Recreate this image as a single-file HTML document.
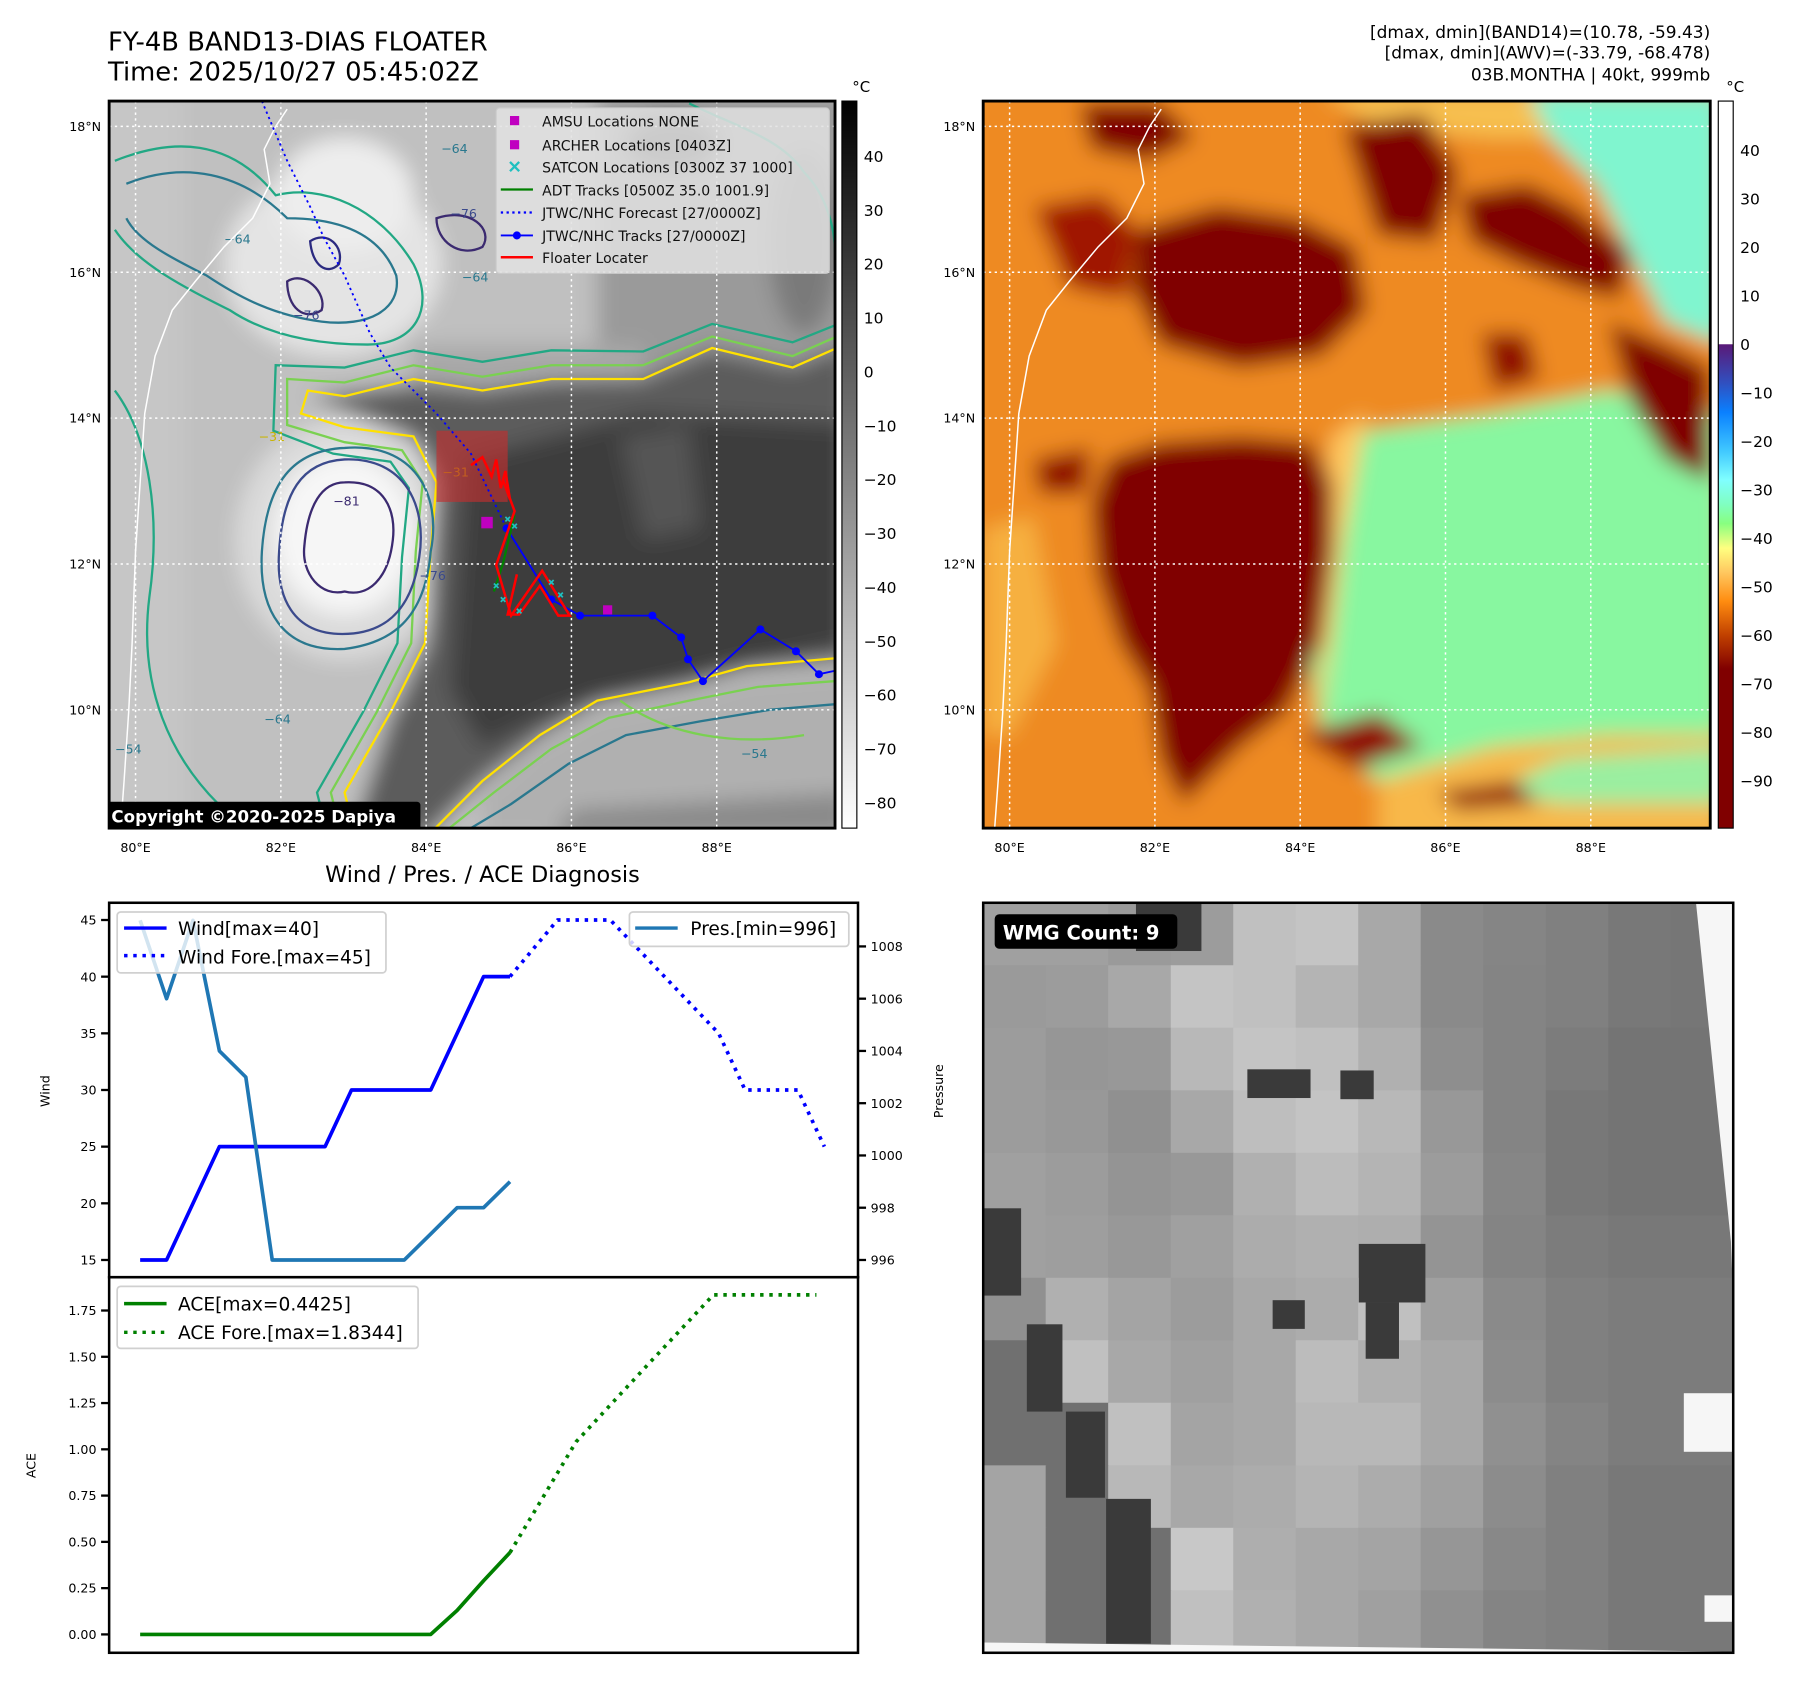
<!DOCTYPE html>
<html><head><meta charset="utf-8"><title>FY-4B BAND13 Floater</title>
<style>
html,body{margin:0;padding:0;background:#fff;}
svg{display:block;font-family:"DejaVu Sans","Liberation Sans",sans-serif;}
</style></head>
<body>
<svg id="fig" width="1801" height="1690" viewBox="0 0 1568 1471.4" xmlns="http://www.w3.org/2000/svg">
<defs>
  <filter id="blur5" filterUnits="userSpaceOnUse" x="0" y="0" width="1568" height="900"><feGaussianBlur stdDeviation="9"/></filter>
  <clipPath id="clipMap1"><rect x="95" y="88" width="632" height="633"/></clipPath>
  <clipPath id="clipMap2"><rect x="856" y="88" width="633" height="633"/></clipPath>
  <clipPath id="clipWmg"><rect x="856" y="786" width="653" height="653"/></clipPath>
  <linearGradient id="cb1grad" x1="0" y1="0" x2="0" y2="1">
    <stop offset="0" stop-color="#000"/><stop offset="1" stop-color="#fff"/>
  </linearGradient>
  <linearGradient id="cb2grad" x1="0" y1="0" x2="0" y2="1">
    <stop offset="0" stop-color="#fff"/>
    <stop offset="0.334" stop-color="#fff"/>
    <stop offset="0.335" stop-color="#5a1a78"/>
    <stop offset="0.388" stop-color="#3050c0"/>
    <stop offset="0.428" stop-color="#0a80ff"/>
    <stop offset="0.481" stop-color="#40c8ff"/>
    <stop offset="0.521" stop-color="#80ffff"/>
    <stop offset="0.555" stop-color="#80ffc0"/>
    <stop offset="0.581" stop-color="#88ff80"/>
    <stop offset="0.615" stop-color="#ffff80"/>
    <stop offset="0.648" stop-color="#ffc860"/>
    <stop offset="0.688" stop-color="#ff8c10"/>
    <stop offset="0.735" stop-color="#c04000"/>
    <stop offset="0.781" stop-color="#800000"/>
    <stop offset="1" stop-color="#800000"/>
  </linearGradient>
</defs>

<!-- Titles -->
<text x="94" y="44" font-size="22.5">FY-4B BAND13-DIAS FLOATER</text>
<text x="94" y="70" font-size="22.5">Time: 2025/10/27 05:45:02Z</text>
<g font-size="14.8" text-anchor="end">
  <text x="1489" y="33">[dmax, dmin](BAND14)=(10.78, -59.43)</text>
  <text x="1489" y="51">[dmax, dmin](AWV)=(-33.79, -68.478)</text>
  <text x="1489" y="70">03B.MONTHA | 40kt, 999mb</text>
</g>

<!-- ================= MAP 1 ================= -->
<g clip-path="url(#clipMap1)">
  <g filter="url(#blur5)">
    <rect x="80" y="70" width="670" height="670" fill="#c0c0c0"/>
    <ellipse cx="290" cy="230" rx="95" ry="80" fill="#e4e4e4"/>
    <ellipse cx="300" cy="170" rx="60" ry="50" fill="#ededed"/>
    <ellipse cx="300" cy="470" rx="95" ry="105" fill="#dadada"/>
    <ellipse cx="300" cy="465" rx="62" ry="70" fill="#f6f6f6"/>
    <polygon points="520,80 740,80 740,300 690,320 620,305 560,330 520,300" fill="#9a9a9a"/>
    <ellipse cx="585" cy="125" rx="42" ry="25" fill="#4a4a4a"/>
    <ellipse cx="700" cy="210" rx="30" ry="80" fill="#7a7a7a"/>
    <polygon points="360,300 560,300 560,335 360,340" fill="#a8a8a8"/>
    <polygon points="270,345 360,335 420,340 480,332 560,330 620,305 690,320 740,300 740,575 650,582 600,597 520,612 470,642 420,680 370,730 305,730 340,625 372,560 376,480 380,420 362,382" fill="#5c5c5c"/>
    <polygon points="405,400 560,360 740,370 740,560 600,590 480,620 420,650 392,600" fill="#3c3c3c"/>
    <polygon points="540,380 600,370 610,460 560,470" fill="#555"/>
    <polygon points="420,690 470,650 520,620 600,605 650,590 740,583 740,690 600,700 500,730 420,730" fill="#b0b0b0"/>
    <polygon points="500,705 740,690 740,730 480,730" fill="#8a8a8a"/>
    <rect x="80" y="80" width="80" height="660" fill="#c6c6c6"/>
  </g>
  <!-- contours -->
  <g fill="none" stroke-width="2">
    <path d="M740,298 L690,320 L620,303 L560,330 L480,330 L420,340 L360,330 L300,345 L268,340 L262,360 L300,372 L360,380 L380,420 L375,480 L370,560 L340,620 L300,690 L310,730" stroke="#ffe100"/>
    <path d="M740,288 L690,310 L620,293 L560,318 L480,318 L420,328 L360,318 L300,333 L250,330 L250,370 L300,385 L350,392 L368,420 L362,480 L358,560 L328,620 L288,690 L298,730" stroke="#7ad151"/>
    <path d="M740,278 L690,298 L620,282 L560,306 L480,305 L420,315 L360,305 L300,320 L240,318 L238,375 L290,395 L340,402 L356,425 L350,485 L346,560 L316,620 L276,690 L286,730" stroke="#22a884"/>
    <path d="M370,730 L420,680 L470,640 L520,610 L600,594 L650,580 L740,572" stroke="#ffe100"/>
    <path d="M380,730 L430,690 L480,652 L530,625 L600,610 L660,598 L740,592" stroke="#7ad151"/>
    <path d="M395,730 L445,700 L495,665 L545,640 L610,628 L670,618 L740,612" stroke="#2a788e"/>
    <path d="M300,390 C360,385 385,430 375,480 C370,540 340,560 300,565 C245,568 225,530 228,480 C232,420 255,392 300,390 Z" stroke="#2a788e"/>
    <path d="M300,400 C352,398 372,440 365,485 C358,535 332,552 298,552 C255,552 240,520 243,480 C246,430 262,402 300,400 Z" stroke="#3b4a8c"/>
    <path d="M300,420 C335,418 345,445 342,470 C338,505 320,520 300,515 C280,520 262,500 265,475 C268,440 280,420 300,420 Z" stroke="#3b2a70"/>
    <path d="M100,140 C150,120 200,120 240,170 C280,160 330,180 360,230 C380,270 360,300 320,300 C270,300 230,290 200,270 C160,250 120,230 100,200" stroke="#22a884"/>
    <path d="M110,160 C160,140 210,150 250,190 C290,190 330,200 345,240 C350,270 320,285 280,280 C240,275 210,260 180,240 C150,225 120,210 110,190" stroke="#2a788e"/>
    <path d="M270,210 C285,200 300,215 295,230 C285,240 272,232 270,210 Z" stroke="#2b2a80"/>
    <path d="M250,245 C265,235 285,255 280,270 C265,280 250,268 250,245 Z" stroke="#3b2a70"/>
    <path d="M380,190 C410,180 430,200 420,215 C400,225 380,210 380,190 Z" stroke="#3b2a70"/>
    <path d="M600,90 C640,110 680,120 700,150 C720,170 727,200 727,220" stroke="#22a884"/>
    <path d="M100,340 C130,380 140,450 130,520 C120,600 150,660 190,700" stroke="#22a884"/>
    <path d="M540,610 C580,640 640,650 700,640" stroke="#7ad151"/>
  </g>
  <g font-size="11" fill="#2a788e">
    <text x="195" y="212">−64</text><text x="384" y="133">−64</text><text x="402" y="245">−64</text>
    <text x="255" y="278" fill="#3b4a8c">−76</text><text x="392" y="190" fill="#3b4a8c">−76</text>
    <text x="290" y="440" fill="#3b2a70">−81</text><text x="365" y="505" fill="#3b4a8c">−76</text>
    <text x="385" y="415" fill="#c8b400">−31</text><text x="225" y="384" fill="#c8b400">−31</text>
    <text x="230" y="630">−64</text><text x="645" y="660">−54</text><text x="100" y="656">−54</text>
  </g>
  <path d="M105,721 L108,680 L112,620 L115,560 L118,480 L122,420 L126,360 L135,310 L150,270 L170,245 L195,215 L220,190 L235,160 L230,130 L240,110 L250,95" fill="none" stroke="#fff" stroke-width="1.3"/>
  <g stroke="#fff" stroke-width="1.3" stroke-dasharray="2,3">
    <line x1="118" y1="88" x2="118" y2="721"/><line x1="244.5" y1="88" x2="244.5" y2="721"/><line x1="371" y1="88" x2="371" y2="721"/><line x1="497.5" y1="88" x2="497.5" y2="721"/><line x1="624" y1="88" x2="624" y2="721"/>
    <line x1="95" y1="110" x2="727" y2="110"/><line x1="95" y1="237" x2="727" y2="237"/><line x1="95" y1="364" x2="727" y2="364"/><line x1="95" y1="491" x2="727" y2="491"/><line x1="95" y1="618" x2="727" y2="618"/>
  </g>
  <rect x="380" y="375" width="62" height="62" fill="#c03030" opacity="0.65"/>
  <polyline points="228,88 250,140 270,180 282,207 300,240 322,290 340,320 380,360 410,395 441,460" fill="none" stroke="#0000ff" stroke-width="1.6" stroke-dasharray="2,3"/>
  <polyline points="441,460 480,522 505,536 568,536 593,555 599,574 612,593 662,548 693,567 713,587 727,584" fill="none" stroke="#0000ff" stroke-width="1.6"/>
  <g fill="#0000ff">
    <circle cx="441" cy="460" r="3.5"/><circle cx="480" cy="522" r="3.5"/><circle cx="505" cy="536" r="3.5"/><circle cx="568" cy="536" r="3.5"/><circle cx="593" cy="555" r="3.5"/><circle cx="599" cy="574" r="3.5"/><circle cx="612" cy="593" r="3.5"/><circle cx="662" cy="548" r="3.5"/><circle cx="693" cy="567" r="3.5"/><circle cx="713" cy="587" r="3.5"/>
  </g>
  <polyline points="430,515 438,490 444,465 448,448" fill="none" stroke="#008000" stroke-width="2"/>
  <polyline points="410,405 420,398 428,415 432,400 436,425 440,410 444,435 438,418 448,445 432,492 445,536 472,497 496,536 486,536 470,510 452,535 442,535 450,500" fill="none" stroke="#ff0000" stroke-width="2.2"/>
  <g stroke="#20c0c0" stroke-width="1.5">
    <path d="M430,508 l4,4 m0,-4 l-4,4 M436,520 l4,4 m0,-4 l-4,4 M450,530 l4,4 m0,-4 l-4,4 M478,505 l4,4 m0,-4 l-4,4 M486,516 l4,4 m0,-4 l-4,4 M440,450 l4,4 m0,-4 l-4,4 M446,456 l4,4 m0,-4 l-4,4"/>
  </g>
  <rect x="419" y="450" width="10" height="10" fill="#c000c0"/>
  <rect x="525" y="527" width="8" height="8" fill="#c000c0"/>
  <g>
    <rect x="432" y="94" width="290" height="144" rx="3" fill="#e2e2e2" fill-opacity="0.85" stroke="#ccc"/>
    <rect x="444" y="101" width="8" height="8" fill="#c000c0"/>
    <rect x="444" y="122" width="8" height="8" fill="#c000c0"/>
    <path d="M444,141 l8,8 m0,-8 l-8,8" stroke="#20c0c0" stroke-width="2"/>
    <line x1="436" y1="165" x2="464" y2="165" stroke="#008000" stroke-width="2"/>
    <line x1="436" y1="185" x2="464" y2="185" stroke="#0000ff" stroke-width="2" stroke-dasharray="2,3"/>
    <line x1="436" y1="205" x2="464" y2="205" stroke="#0000ff" stroke-width="1.6"/><circle cx="450" cy="205" r="3.5" fill="#0000ff"/>
    <line x1="436" y1="224" x2="464" y2="224" stroke="#ff0000" stroke-width="2.2"/>
    <g font-size="12.2" fill="#111">
      <text x="472" y="110">AMSU Locations NONE</text>
      <text x="472" y="131">ARCHER Locations [0403Z]</text>
      <text x="472" y="150">SATCON Locations [0300Z 37 1000]</text>
      <text x="472" y="170">ADT Tracks [0500Z 35.0 1001.9]</text>
      <text x="472" y="190">JTWC/NHC Forecast [27/0000Z]</text>
      <text x="472" y="210">JTWC/NHC Tracks [27/0000Z]</text>
      <text x="472" y="229">Floater Locater</text>
    </g>
  </g>
  <g>
    <rect x="93" y="698" width="273" height="26" rx="3" fill="#000"/>
    <text x="97" y="716" font-size="14.5" font-weight="bold" fill="#fff">Copyright ©2020-2025 Dapiya</text>
  </g>
</g>
<rect x="95" y="88" width="632" height="633" fill="none" stroke="#000" stroke-width="2.5"/>
<rect x="733" y="88" width="13" height="633" fill="url(#cb1grad)" stroke="#000" stroke-width="1"/>
<text x="742" y="80" font-size="13">°C</text>
<g id="cb1labels" font-size="13.5"></g>
<g font-size="11" text-anchor="end">
  <text x="88" y="114">18°N</text><text x="88" y="241">16°N</text><text x="88" y="368">14°N</text><text x="88" y="495">12°N</text><text x="88" y="622">10°N</text>
</g>
<g font-size="11" text-anchor="middle">
  <text x="118" y="742">80°E</text><text x="244.5" y="742">82°E</text><text x="371" y="742">84°E</text><text x="497.5" y="742">86°E</text><text x="624" y="742">88°E</text>
</g>

<!-- ================= MAP 2 ================= -->
<g clip-path="url(#clipMap2)">
  <g filter="url(#blur5)">
    <rect x="840" y="70" width="670" height="670" fill="#ee8a20"/>
    <polygon points="1160,380 1300,360 1400,340 1500,360 1500,640 1400,640 1300,650 1200,680 1150,640 1140,560 1150,450" fill="#88f7a0"/>
    <polygon points="1330,80 1500,80 1500,300 1450,280 1420,220 1390,160 1350,120" fill="#80f5cf"/>
    <polygon points="1150,80 1330,80 1350,120 1300,120 1200,110" fill="#f7c050"/>
    <polygon points="1150,450 1160,380 1190,360 1170,470 1150,640" fill="#ffc860"/>
    <polygon points="1200,680 1300,650 1400,640 1500,640 1500,740 1200,740" fill="#f8b848"/>
    <polygon points="1300,690 1360,660 1500,650 1500,700 1360,700" fill="#9aefa0"/>
    <polygon points="856,460 900,450 920,560 880,640 856,640" fill="#f6b040"/>
    <polygon points="965,400 1010,385 1080,380 1140,385 1160,420 1160,480 1150,560 1120,620 1080,650 1050,680 1030,700 1010,660 1000,600 975,560 955,500 950,440" fill="#800000"/>
    <polygon points="990,200 1060,180 1130,190 1180,215 1190,270 1150,310 1080,320 1010,300 985,250" fill="#800000"/>
    <polygon points="900,180 960,170 990,200 980,260 930,250" fill="#a01800"/>
    <polygon points="1170,110 1240,100 1270,150 1250,210 1200,205" fill="#800000"/>
    <polygon points="1270,170 1330,160 1370,180 1420,220 1410,260 1370,250 1320,230 1280,210" fill="#800000"/>
    <polygon points="1400,280 1450,300 1489,320 1489,420 1450,400 1420,350" fill="#800000"/>
    <polygon points="940,90 1010,90 1040,120 1000,140 950,130" fill="#800000"/>
    <polygon points="1290,290 1330,290 1340,330 1300,340" fill="#901000"/>
    <polygon points="900,400 950,390 945,430 905,430" fill="#900800"/>
    <polygon points="1130,640 1200,620 1240,650 1180,670" fill="#900800"/>
    <polygon points="1250,690 1320,680 1340,700 1270,705" fill="#900800"/>
  </g>
  <path d="M866,721 L869,680 L873,620 L876,560 L879,480 L883,420 L887,360 L896,310 L911,270 L931,245 L956,215 L981,190 L996,160 L991,130 L1001,110 L1011,95" fill="none" stroke="#fff" stroke-width="1.3"/>
  <g stroke="#fff" stroke-width="1.3" stroke-dasharray="2,3">
    <line x1="879" y1="88" x2="879" y2="721"/><line x1="1005.5" y1="88" x2="1005.5" y2="721"/><line x1="1132" y1="88" x2="1132" y2="721"/><line x1="1258.5" y1="88" x2="1258.5" y2="721"/><line x1="1385" y1="88" x2="1385" y2="721"/>
    <line x1="856" y1="110" x2="1489" y2="110"/><line x1="856" y1="237" x2="1489" y2="237"/><line x1="856" y1="364" x2="1489" y2="364"/><line x1="856" y1="491" x2="1489" y2="491"/><line x1="856" y1="618" x2="1489" y2="618"/>
  </g>
</g>
<rect x="856" y="88" width="633" height="633" fill="none" stroke="#000" stroke-width="2.5"/>
<rect x="1496" y="88" width="13" height="633" fill="url(#cb2grad)" stroke="#000" stroke-width="1"/>
<text x="1503" y="80" font-size="13">°C</text>
<g id="cb2labels" font-size="13.5"></g>
<g font-size="11" text-anchor="end">
  <text x="849" y="114">18°N</text><text x="849" y="241">16°N</text><text x="849" y="368">14°N</text><text x="849" y="495">12°N</text><text x="849" y="622">10°N</text>
</g>
<g font-size="11" text-anchor="middle">
  <text x="879" y="742">80°E</text><text x="1005.5" y="742">82°E</text><text x="1132" y="742">84°E</text><text x="1258.5" y="742">86°E</text><text x="1385" y="742">88°E</text>
</g>

<!-- ================= BOTTOM-LEFT CHARTS ================= -->
<text x="420" y="768" font-size="19.5" text-anchor="middle">Wind / Pres. / ACE Diagnosis</text>
<g id="chartLayer"></g>
<rect x="95" y="786" width="652" height="326" fill="none" stroke="#000" stroke-width="2.2"/>
<rect x="95" y="1112" width="652" height="327" fill="none" stroke="#000" stroke-width="2.2"/>
<text transform="translate(43,950) rotate(-90)" font-size="11" text-anchor="middle">Wind</text>
<text transform="translate(31,1276) rotate(-90)" font-size="11" text-anchor="middle">ACE</text>
<text transform="translate(821,950) rotate(-90)" font-size="11" text-anchor="middle">Pressure</text>

<g>
  <rect x="102" y="794" width="234" height="53" rx="3" fill="#fff" fill-opacity="0.8" stroke="#d0d0d0" stroke-width="1.5"/>
  <line x1="108" y1="808" x2="145" y2="808" stroke="#0000ff" stroke-width="3"/>
  <line x1="108" y1="832" x2="145" y2="832" stroke="#0000ff" stroke-width="3" stroke-dasharray="3,5"/>
  <text x="155" y="814" font-size="16.2">Wind[max=40]</text>
  <text x="155" y="839" font-size="16.2">Wind Fore.[max=45]</text>
</g>
<g>
  <rect x="548" y="794" width="191" height="30" rx="3" fill="#fff" fill-opacity="0.8" stroke="#d0d0d0" stroke-width="1.5"/>
  <line x1="553" y1="808" x2="590" y2="808" stroke="#1f77b4" stroke-width="3"/>
  <text x="601" y="814" font-size="16.2">Pres.[min=996]</text>
</g>
<g>
  <rect x="102" y="1120" width="262" height="54" rx="3" fill="#fff" fill-opacity="0.8" stroke="#d0d0d0" stroke-width="1.5"/>
  <line x1="108" y1="1135" x2="145" y2="1135" stroke="#008000" stroke-width="3"/>
  <line x1="108" y1="1160" x2="145" y2="1160" stroke="#008000" stroke-width="3" stroke-dasharray="3,5"/>
  <text x="155" y="1141" font-size="16.2">ACE[max=0.4425]</text>
  <text x="155" y="1166" font-size="16.2">ACE Fore.[max=1.8344]</text>
</g>

<!-- ================= BOTTOM-RIGHT WMG ================= -->
<g clip-path="url(#clipWmg)">
  <g id="wmgGrid"></g>
  <g fill="#3a3a3a">
    <rect x="989" y="787" width="57" height="41"/>
    <rect x="1086" y="931" width="55" height="25"/>
    <rect x="1167" y="932" width="29" height="25"/>
    <rect x="1183" y="1083" width="58" height="51"/>
    <rect x="1189" y="1134" width="29" height="49"/>
    <rect x="1108" y="1132" width="28" height="25"/>
    <rect x="857" y="1052" width="32" height="76"/>
    <rect x="894" y="1153" width="31" height="76"/>
    <rect x="928" y="1229" width="34" height="75"/>
    <rect x="963" y="1305" width="39" height="126"/>
  </g>
  <g fill="#f6f6f6">
    <polygon points="1476.6,786 1512,786 1512,1208 1507,1081"/>
    <rect x="1466" y="1213" width="46" height="51"/>
    <rect x="1484" y="1389" width="28" height="23"/>
    <polygon points="856,1430 1512,1438 1512,1440 856,1440"/>
  </g>
</g>
<rect x="856" y="786" width="653" height="653" fill="none" stroke="#000" stroke-width="2.2"/>
<g>
  <rect x="866" y="796" width="159" height="30" rx="4" fill="#000"/>
  <text x="873" y="818" font-size="17" font-weight="bold" fill="#fff">WMG Count: 9</text>
</g>
</svg>

<script>
const obsIndex = [0,1,2,3,4,5,6,7,8,9,10,11,12,13,14];
const windObs = [15,15,20,25,25,25,25,25,30,30,30,30,35,40,40];
const presObs = [1009,1006,1009,1004,1003,996,996,996,996,996,996,997,998,998,999];
const aceObs = [0,0,0,0,0,0,0,0,0,0,0,0,0.13,0.29,0.4425];
const windFcIndex = [14,15.8,17.8,21.9,22.9,24.9,25.9];
const windFc = [40,45,45,35,30,30,25];
const aceFcIndex = [14,16.5,19.3,21.7,25.6];
const aceFc = [0.4425,1.04,1.47,1.8344,1.8344];
const windTicks = [15,20,25,30,35,40,45];
const presTicks = [996,998,1000,1002,1004,1006,1008];
const aceTicks = [0,0.25,0.5,0.75,1,1.25,1.5,1.75];
const cb1Ticks = [40,30,20,10,0,-10,-20,-30,-40,-50,-60,-70,-80];
const cb2Ticks = [40,30,20,10,0,-10,-20,-30,-40,-50,-60,-70,-80,-90];

const wmgRows = [
 [0xa0,0xa0,0x9a,0x9c,0xc0,0xc4,0xa8,0x8a,0x85,0x80,0x78,0x76],
 [0x9a,0x9c,0xa8,0xc4,0xc0,0xb4,0xa8,0x8a,0x84,0x80,0x78,0x76],
 [0x9c,0x96,0x98,0xb8,0xc4,0xc0,0xb0,0x8e,0x84,0x7c,0x74,0x74],
 [0x9c,0x98,0x90,0xa8,0xbe,0xc4,0xb8,0x98,0x84,0x78,0x74,0x74],
 [0xa0,0x9c,0x94,0x98,0xb0,0xbc,0xb4,0x9c,0x86,0x78,0x74,0x74],
 [0xa0,0x9e,0x98,0xa0,0xac,0xb0,0xae,0x94,0x84,0x7c,0x78,0x78],
 [0x90,0xb0,0xa4,0x9c,0xa8,0xac,0xc0,0xa0,0x8a,0x80,0x7c,0x7c],
 [0x70,0xc0,0xa8,0xa0,0xa8,0xbc,0xb0,0xa8,0x8c,0x80,0x7c,0x7c],
 [0x70,0x70,0xc0,0xa4,0xa8,0xb8,0xb8,0xa8,0x90,0x84,0x7c,0x7c],
 [0xa4,0x70,0xb8,0xa8,0xac,0xb4,0xac,0xa0,0x8c,0x80,0x78,0x78],
 [0xa4,0x70,0x70,0xc8,0xae,0xa8,0xa4,0x96,0x88,0x80,0x78,0x78],
 [0xa4,0x70,0x70,0xc0,0xb0,0xa8,0xa0,0x90,0x84,0x80,0x78,0x78]
];

const NS = 'http://www.w3.org/2000/svg';
function mk(tag, attrs, parent){ const e=document.createElementNS(NS,tag); for(const k in attrs) e.setAttribute(k,attrs[k]); parent.appendChild(e); return e; }
function fmtMinus(v, d){ const s = (Math.abs(v)).toFixed(d); return (v<0?'\u2212':'')+s; }

function xPos(i){ return 122 + 23*i; }
function windY(w){ return 1097 - (w-15)*(296/30); }
function presY(p){ return 1097 - (p-996)*22.75; }
function aceY(a){ return 1423 - a*(282/1.75); }
function cb1Y(v){ return 136 + (40-v)*4.69; }
function cb2Y(v){ return 131 + (40-v)*4.22; }

const layer = document.getElementById('chartLayer');

function polyline(xs, ys, stroke, dash, name){
  const pts = xs.map((x,i)=>x.toFixed(1)+','+ys[i].toFixed(1)).join(' ');
  const el = mk('polyline',{points:pts,fill:'none',stroke:stroke,'stroke-width':3.2,'stroke-linejoin':'round'},layer);
  if(dash) el.setAttribute('stroke-dasharray',dash);
  
  
  return el;
}

polyline(obsIndex.map(xPos), windObs.map(windY), '#0000ff', null, 'wind-line');
polyline(windFcIndex.map(xPos), windFc.map(windY), '#0000ff', '3,5', 'wind-forecast-line');
polyline(obsIndex.map(xPos), presObs.map(presY), '#1f77b4', null, 'pressure-line');
polyline(obsIndex.map(xPos), aceObs.map(aceY), '#008000', null, 'ace-line');
polyline(aceFcIndex.map(xPos), aceFc.map(aceY), '#008000', '3,5', 'ace-forecast-line');

windTicks.forEach(function(t){
  const y = windY(t);
  const tk = mk('line',{x1:88,y1:y,x2:95,y2:y,stroke:'#000','stroke-width':2},layer);
  
  
  const lb = mk('text',{x:84,y:y+4,'font-size':11,'text-anchor':'end'},layer);
  lb.textContent = String(t);
  
  
});
presTicks.forEach(function(t){
  const y = presY(t);
  const tk = mk('line',{x1:747,y1:y,x2:754,y2:y,stroke:'#000','stroke-width':2},layer);
  
  
  const lb = mk('text',{x:758,y:y+4,'font-size':11},layer);
  lb.textContent = String(t);
  
  
});
aceTicks.forEach(function(t){
  const y = aceY(t);
  const tk = mk('line',{x1:88,y1:y,x2:95,y2:y,stroke:'#000','stroke-width':2},layer);
  
  
  const lb = mk('text',{x:84,y:y+4,'font-size':11,'text-anchor':'end'},layer);
  lb.textContent = t.toFixed(2);
  
  
});

const cb1 = document.getElementById('cb1labels');
cb1Ticks.forEach(function(v){
  const lb = mk('text',{x:752,y:cb1Y(v)+5},cb1);
  lb.textContent = fmtMinus(v,0);
  
  
});
const cb2 = document.getElementById('cb2labels');
cb2Ticks.forEach(function(v){
  const lb = mk('text',{x:1515,y:cb2Y(v)+5},cb2);
  lb.textContent = fmtMinus(v,0);
  
  
});

const wmg = document.getElementById('wmgGrid');
const cell = 653/12;
wmgRows.forEach(function(row, r){
  row.forEach(function(g, c){
    const hex = g.toString(16).padStart(2,'0');
    const rc = mk('rect',{x:(856+c*cell).toFixed(1),y:(786+r*cell).toFixed(1),width:(cell+0.6).toFixed(1),height:(cell+0.6).toFixed(1),fill:'#'+hex+hex+hex},wmg);
    
    
  });
});
</script>
</body></html>
